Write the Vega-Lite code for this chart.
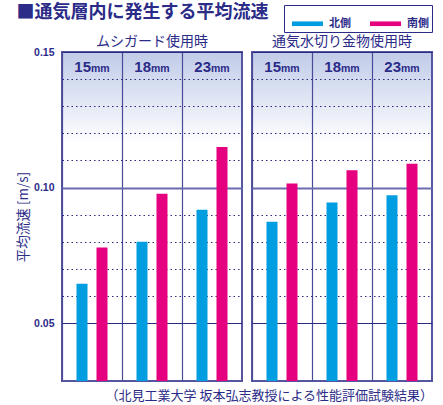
{
  "$schema": "https://vega.github.io/schema/vega-lite/v6.json",
  "padding": {"left": 16, "top": 3, "right": 5, "bottom": 1},
  "title": {
    "text": "■通気層内に発生する平均流速",
    "anchor": "start",
    "frame": "bounds",
    "font": "Noto Sans CJK JP",
    "fontSize": 18,
    "fontWeight": "bold",
    "color": "#2b2b88",
    "offset": -17
  },
  "data": {
    "values": [
      {"group": "ムシガード使用時", "size": "15", "side": "北側", "value": 0.0646},
      {"group": "ムシガード使用時", "size": "15", "side": "南側", "value": 0.0779},
      {"group": "ムシガード使用時", "size": "18", "side": "北側", "value": 0.0800},
      {"group": "ムシガード使用時", "size": "18", "side": "南側", "value": 0.0977},
      {"group": "ムシガード使用時", "size": "23", "side": "北側", "value": 0.0918},
      {"group": "ムシガード使用時", "size": "23", "side": "南側", "value": 0.1150},
      {"group": "通気水切り金物使用時", "size": "15", "side": "北側", "value": 0.0874},
      {"group": "通気水切り金物使用時", "size": "15", "side": "南側", "value": 0.1015},
      {"group": "通気水切り金物使用時", "size": "18", "side": "北側", "value": 0.0945},
      {"group": "通気水切り金物使用時", "size": "18", "side": "南側", "value": 0.1064},
      {"group": "通気水切り金物使用時", "size": "23", "side": "北側", "value": 0.0972},
      {"group": "通気水切り金物使用時", "size": "23", "side": "南側", "value": 0.1088}
    ]
  },
  "spacing": 8,
  "facet": {
    "column": {
      "field": "group",
      "type": "nominal",
      "sort": ["ムシガード使用時", "通気水切り金物使用時"],
      "title": "（北見工業大学 坂本弘志教授による性能評価試験結果）",
      "header": {
        "labelOrient": "top",
        "titleOrient": "bottom",
        "titleAnchor": "end",
        "labelFont": "Noto Sans CJK JP",
        "labelFontSize": 14,
        "labelColor": "#2b2b88",
        "labelPadding": 2,
        "titleFont": "Noto Sans CJK JP",
        "titleFontSize": 13,
        "titleFontWeight": "normal",
        "titleColor": "#2b2b88",
        "titlePadding": -2
      }
    }
  },
  "spec": {
    "width": 180,
    "height": 329,
    "layer": [
      {
        "mark": {"type": "bar", "clip": true},
        "encoding": {
          "x": {
            "field": "size",
            "type": "nominal",
            "scale": {"paddingInner": 0, "paddingOuter": 0},
            "axis": {
              "labels": false,
              "ticks": false,
              "domain": false,
              "title": null,
              "grid": true,
              "bandPosition": 0,
              "gridColor": "#4a4a98",
              "gridWidth": 1.2
            }
          },
          "xOffset": {
            "field": "side",
            "type": "nominal",
            "sort": ["北側", "南側"],
            "scale": {"paddingInner": 0.45, "paddingOuter": 0.725}
          },
          "y": {
            "field": "value",
            "type": "quantitative",
            "title": "平均流速 [m/s]",
            "scale": {"domain": [0.0287, 0.15], "zero": false, "nice": false},
            "axis": {
              "values": [0.05, 0.06, 0.07, 0.08, 0.09, 0.10, 0.11, 0.12, 0.13, 0.14, 0.15],
              "tickCount": 30,
              "labelExpr": "round(datum.value * 100) % 5 == 0 ? format(datum.value, '.2f') : ''",
              "labelOverlap": false,
              "labelBound": false,
              "ticks": false,
              "domain": false,
              "labelPadding": 7,
              "labelFont": "Liberation Sans",
              "labelFontSize": 10.5,
              "labelFontWeight": "bold",
              "labelColor": "#2b2b88",
              "titleFont": "Noto Sans CJK JP",
              "titleFontSize": 13.5,
              "titleFontWeight": "normal",
              "titleColor": "#2b2b88",
              "titlePadding": 3,
              "gridDash": {"condition": {"test": "round(datum.value * 100) % 5 == 0", "value": []}, "value": [1.5, 3]},
              "gridColor": {"condition": {"test": "round(datum.value * 100) == 10", "value": "#6b6bb0"}, "value": "#2a2a80"},
              "gridWidth": {"condition": {"test": "round(datum.value * 100) == 10", "value": 2}, "value": 1.2}
            }
          },
          "color": {
            "field": "side",
            "type": "nominal",
            "scale": {"domain": ["北側", "南側"], "range": ["#009ee0", "#e4007f"]},
            "legend": {
              "orient": "none",
              "legendX": 222,
              "legendY": -47,
              "direction": "horizontal",
              "title": null,
              "strokeColor": "#2b2b88",
              "fillColor": "white",
              "padding": 3,
              "symbolOffset": 5,
              "symbolType": "M-1,-0.15H1V0.15H-1Z",
              "symbolSize": 961,
              "symbolStrokeWidth": 0,
              "labelFont": "Noto Sans CJK JP",
              "labelFontSize": 11,
              "labelFontWeight": "bold",
              "labelColor": "#2b2b88",
              "labelOffset": 6,
              "columnPadding": 14
            }
          }
        }
      },
      {
        "transform": [{"filter": "datum.side == '北側'"}],
        "mark": {
          "type": "text",
          "align": "right",
          "baseline": "alphabetic",
          "dx": -1,
          "font": "Liberation Sans",
          "fontSize": 15,
          "fontWeight": "bold",
          "color": "#2b2b88"
        },
        "encoding": {
          "x": {"field": "size", "type": "nominal"},
          "y": {"datum": 0.1425, "type": "quantitative"},
          "text": {"field": "size"}
        }
      },
      {
        "transform": [{"filter": "datum.side == '北側'"}],
        "mark": {
          "type": "text",
          "align": "left",
          "baseline": "alphabetic",
          "dx": -1,
          "font": "Liberation Sans",
          "fontSize": 10.5,
          "fontWeight": "bold",
          "color": "#2b2b88"
        },
        "encoding": {
          "x": {"field": "size", "type": "nominal"},
          "y": {"datum": 0.1425, "type": "quantitative"},
          "text": {"value": "mm"}
        }
      }
    ]
  },
  "config": {
    "view": {
      "stroke": "#5656a0",
      "strokeWidth": 2,
      "fill": {
        "gradient": "linear",
        "x1": 0, "y1": 0, "x2": 0, "y2": 1,
        "stops": [
          {"offset": 0, "color": "#c0cbe8"},
          {"offset": 0.28, "color": "#ffffff"},
          {"offset": 1, "color": "#ffffff"}
        ]
      }
    }
  }
}
